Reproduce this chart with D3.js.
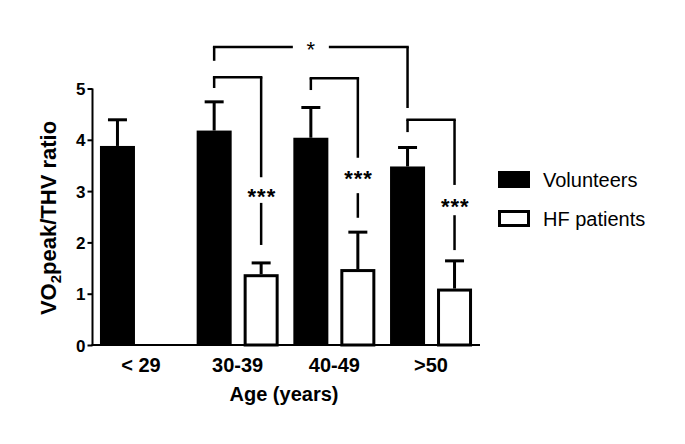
<!DOCTYPE html>
<html>
<head>
<meta charset="utf-8">
<script src="https://cdn.jsdelivr.net/npm/d3@7"></script>
<style>
  html, body { margin: 0; padding: 0; background: #fff; }
  svg { display: block; }
  text { font-family: "Liberation Sans", Arial, sans-serif; fill: #000; }
</style>
</head>
<body>
<svg id="chart" width="685" height="444"></svg>
<script>
// ---- data ----
const categories = ["< 29", "30-39", "40-49", ">50"];
const seriesNames = ["Volunteers", "HF patients"];
const volunteers = [3.88, 4.18, 4.04, 3.48];
const volunteersErr = [0.51, 0.56, 0.59, 0.37];
const hfPatients = [null, 1.38, 1.48, 1.10];
const hfPatientsErr = [null, 0.22, 0.72, 0.54];
const yTicks = [0, 1, 2, 3, 4, 5];
const xTitle = "Age (years)";

// significance annotations (values in y units)
const brackets = [
  { from: [1, 0], to: [3, 0], top: 5.81, leftEnd: 5.54, rightEnd: 4.62, label: "*", mid: true },
  { from: [1, 0], to: [1, 1], top: 5.22, leftEnd: 5.01, rightEnd: 3.27, label: "***", labelY: 3.00, lowSeg: [2.77, 1.95] },
  { from: [2, 0], to: [2, 1], top: 5.20, leftEnd: 4.97, rightEnd: 3.65, label: "***", labelY: 3.35, lowSeg: [2.96, 2.48] },
  { from: [3, 0], to: [3, 1], top: 4.39, leftEnd: 4.15, rightEnd: 3.12, label: "***", labelY: 2.79, lowSeg: [2.53, 1.85] }
];

const rows = categories.map((c, i) => ({
  cat: c,
  values: [
    { s: seriesNames[0], v: volunteers[i], e: volunteersErr[i] },
    { s: seriesNames[1], v: hfPatients[i], e: hfPatientsErr[i] }
  ]
}));

// ---- scales ----
const svg = d3.select("#chart");
const x0 = d3.scaleBand().domain(categories).range([93, 479]).paddingInner(0.152).paddingOuter(0.072);
const x1 = d3.scaleBand().domain(seriesNames).range([0, x0.bandwidth()]).paddingInner(0.255).paddingOuter(0);
const y = d3.scaleLinear().domain([0, 5]).range([345, 88.5]);

const cx = (gi, si) => x0(categories[gi]) + x1(seriesNames[si]) + x1.bandwidth() / 2;

// ---- bars ----
const g = svg.append("g");
const groups = g.selectAll("g.grp").data(rows).join("g")
  .attr("transform", d => `translate(${x0(d.cat)},0)`);

groups.selectAll("rect").data(d => d.values.filter(v => v.v != null)).join("rect")
  .attr("x", d => x1(d.s) + (d.s === seriesNames[1] ? 1.5 : 0))
  .attr("y", d => y(d.v) + (d.s === seriesNames[1] ? 1.5 : 0))
  .attr("width", d => x1.bandwidth() - (d.s === seriesNames[1] ? 3 : 0))
  .attr("height", d => y(0) - y(d.v) - (d.s === seriesNames[1] ? 1.5 : 0))
  .attr("fill", d => d.s === seriesNames[0] ? "#000" : "#fff")
  .attr("stroke", d => d.s === seriesNames[1] ? "#000" : "none")
  .attr("stroke-width", 3);

// error bars (upper only)
const eb = groups.selectAll("g.err").data(d => d.values.filter(v => v.v != null)).join("g");
eb.append("line")
  .attr("x1", d => x1(d.s) + x1.bandwidth() / 2)
  .attr("x2", d => x1(d.s) + x1.bandwidth() / 2)
  .attr("y1", d => y(d.v))
  .attr("y2", d => y(d.v + d.e))
  .attr("stroke", "#000").attr("stroke-width", 3);
eb.append("line")
  .attr("x1", d => x1(d.s) + x1.bandwidth() / 2 - 9.5)
  .attr("x2", d => x1(d.s) + x1.bandwidth() / 2 + 9.5)
  .attr("y1", d => y(d.v + d.e))
  .attr("y2", d => y(d.v + d.e))
  .attr("stroke", "#000").attr("stroke-width", 3);

// ---- axes ----
const yAxis = svg.append("g").attr("transform", "translate(92.5,0)")
  .call(d3.axisLeft(y).tickValues(yTicks).tickFormat(d3.format("d")).tickSize(5).tickPadding(2));
yAxis.select(".domain").attr("stroke-width", 2).attr("d", `M0,${y(5)}V${y(0) + 1}`);
yAxis.selectAll(".tick line").attr("stroke-width", 2);
yAxis.selectAll(".tick text").attr("font-size", 17).attr("font-weight", "bold")
  .attr("font-family", "Liberation Sans, Arial, sans-serif").attr("dy", "0.36em");

const xAxis = svg.append("g").attr("transform", "translate(0,345)")
  .call(d3.axisBottom(x0).tickSize(0).tickPadding(13));
xAxis.select(".domain").attr("stroke-width", 2).attr("d", `M91.5,0H480`);
xAxis.selectAll(".tick text").attr("font-size", 20).attr("font-weight", "bold")
  .attr("font-family", "Liberation Sans, Arial, sans-serif");

// axis titles
svg.append("text").attr("x", 284).attr("y", 401).attr("text-anchor", "middle")
  .attr("font-size", 20).attr("font-weight", "bold").text(xTitle);

const yt = svg.append("text").attr("transform", "translate(56,218) rotate(-90)")
  .attr("text-anchor", "middle").attr("font-size", 22).attr("font-weight", "bold");
yt.append("tspan").text("VO");
yt.append("tspan").attr("font-size", 15).attr("dy", 5).text("2");
yt.append("tspan").attr("dy", -5).text("peak/THV ratio");

// ---- brackets ----
const bg = svg.append("g").attr("stroke", "#000").attr("stroke-width", 2.5).attr("fill", "none");
brackets.forEach(b => {
  const xa = cx(b.from[0], b.from[1]);
  const xb = cx(b.to[0], b.to[1]);
  const yt = y(b.top);
  bg.append("line").attr("x1", xa).attr("x2", xa).attr("y1", yt).attr("y2", y(b.leftEnd));
  bg.append("line").attr("x1", xb).attr("x2", xb).attr("y1", yt).attr("y2", y(b.rightEnd));
  if (b.mid) {
    const xm = (xa + xb) / 2;
    bg.append("line").attr("x1", xa - 1.25).attr("x2", xm - 18).attr("y1", yt).attr("y2", yt);
    bg.append("line").attr("x1", xm + 18).attr("x2", xb + 1.25).attr("y1", yt).attr("y2", yt);
    svg.append("text").attr("x", xm).attr("y", yt - 2 + 12.5).attr("text-anchor", "middle")
      .attr("font-size", 22).text(b.label);
  } else {
    bg.append("line").attr("x1", xa - 1.25).attr("x2", xb + 1.25).attr("y1", yt).attr("y2", yt);
    bg.append("line").attr("x1", xb).attr("x2", xb).attr("y1", y(b.lowSeg[0])).attr("y2", y(b.lowSeg[1]));
    svg.append("text").attr("x", xb + 0.75).attr("y", y(b.labelY) + 12.5).attr("text-anchor", "middle")
      .attr("font-size", 22).attr("font-weight", "bold").attr("letter-spacing", 1).text(b.label);
  }
});

// ---- legend ----
const lg = svg.append("g");
const legY = [171, 210];
seriesNames.forEach((s, i) => {
  lg.append("rect")
    .attr("x", i === 0 ? 498 : 499.5).attr("y", i === 0 ? legY[i] : legY[i] + 1.5)
    .attr("width", i === 0 ? 32 : 29).attr("height", i === 0 ? 17 : 14)
    .attr("fill", i === 0 ? "#000" : "#fff")
    .attr("stroke", i === 0 ? "none" : "#000").attr("stroke-width", 3);
  lg.append("text").attr("x", 543).attr("y", legY[i] + 16).attr("font-size", 20).text(s);
});
</script>
</body>
</html>
